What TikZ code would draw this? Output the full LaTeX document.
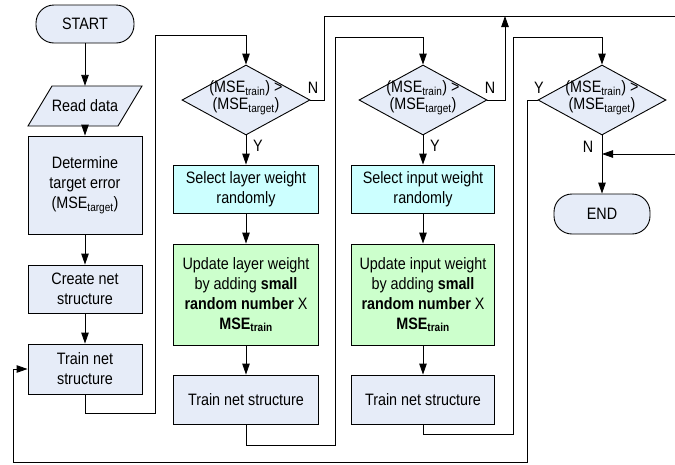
\documentclass[tikz,border=0pt]{standalone}
\usepackage{fontspec}
\setmainfont{Liberation Sans}[FakeStretch=0.87]
\usetikzlibrary{arrows.meta,shapes.geometric}
\definecolor{boxblue}{HTML}{E6ECF8}
\definecolor{boxcyan}{HTML}{CCFFFF}
\definecolor{boxgreen}{HTML}{CCFFCC}
\begin{document}
\begin{tikzpicture}[x=1pt,y=-1pt,
  every node/.style={font=\fontsize{16.5pt}{20pt}\selectfont},
  base/.style={draw=black,line width=0.9pt,align=center,inner sep=0pt},
  proc/.style={base,rectangle,fill=boxblue,minimum width=114pt},
  term/.style={base,rectangle,rounded corners=18pt,fill=boxblue},
  iotext/.style={align=center,inner sep=0pt,minimum width=66pt,minimum height=40pt},
  selbox/.style={base,rectangle,fill=boxcyan,minimum width=145pt,minimum height=48pt},
  updbox/.style={base,rectangle,fill=boxgreen,minimum width=145pt,minimum height=101pt},
  trbox/.style={base,rectangle,fill=boxblue,minimum width=145pt,minimum height=49pt},
  dec/.style={base,diamond,fill=boxblue,minimum width=128pt,minimum height=70pt},
  dtext/.style={align=center,inner sep=0pt,font=\fontsize{16.5pt}{17pt}\selectfont},
  lbl/.style={inner sep=0pt},
  conn/.style={line width=0.9pt,draw=black},
  arr/.style={conn,-{Triangle[length=11pt,width=7.5pt]}}
]
\useasboundingbox (0,0) rectangle (675,464);
% column 1
\node[term,minimum width=98pt,minimum height=38pt] (start) at (85,24) {START};
\draw[fill=boxblue,line width=0.9pt,line join=miter] (52,86) -- (142,86) -- (118,126) -- (28,126) -- cycle;
\node[iotext] (read) at (85,106) {Read data};
\node[proc,minimum height=98pt] (det) at (85,185) {Determine\\target error\\(MSE\textsubscript{target})};
\node[proc,minimum height=48pt] (create) at (85,289) {Create net\\structure};
\node[proc,minimum height=50pt] (tr0) at (85,369) {Train net\\structure};
% column 2
\node[dec] (d1) at (246,100) {};
\node[dtext,yshift=2pt] (d1t) at (d1.center) {(MSE\textsubscript{train}) >\\(MSE\textsubscript{target})};
\node[selbox] (sel1) at (246,189) {Select layer weight\\randomly};
\node[updbox] (upd1) at (246,294.5) {Update layer weight\\by adding \textbf{small}\\\textbf{random number} X\\\textbf{MSE\textsubscript{train}}};
\node[trbox] (tr1) at (246,399.5) {Train net structure};
% column 3
\node[dec] (d2) at (423,100) {};
\node[dtext,yshift=2pt] (d2t) at (d2.center) {(MSE\textsubscript{train}) >\\(MSE\textsubscript{target})};
\node[selbox,minimum width=143pt] (sel2) at (423,189) {Select input weight\\randomly};
\node[updbox,minimum width=143pt] (upd2) at (423,294.5) {Update input weight\\by adding \textbf{small}\\\textbf{random number} X\\\textbf{MSE\textsubscript{train}}};
\node[trbox,minimum width=143pt] (tr2) at (423,399.5) {Train net structure};
% column 4
\node[dec] (d3) at (602,100) {};
\node[dtext,yshift=2pt] (d3t) at (d3.center) {(MSE\textsubscript{train}) >\\(MSE\textsubscript{target})};
\node[term,minimum width=96pt,minimum height=40pt] (end) at (602,214) {END};
% labels
\node[lbl] (n1) at (313,88) {N};
\node[lbl] (y1) at (258,146) {Y};
\node[lbl] (n2) at (490,88) {N};
\node[lbl] (y2) at (435,146) {Y};
\node[lbl] (y3) at (539,88) {Y};
\node[lbl] (n3) at (588,147) {N};
% free ends
\coordinate (topR) at (675,16);
\coordinate (midR) at (675,154);
\coordinate (joinT) at (505,16);
\coordinate (joinE) at (602,154);
% connectors column 1
\draw[arr] (start) -- (read);
\draw[arr] (read) -- (det);
\draw[arr] (det) -- (create);
\draw[arr] (create) -- (tr0);
\draw[arr] (tr0.south) -- (85,413) -- (155,413) -- (155,35) -- (246,35) -- (d1.north);
% column 2
\draw[arr] (d1) -- (sel1);
\draw[arr] (sel1) -- (upd1);
\draw[arr] (upd1) -- (tr1);
\draw[arr] (tr1.south) -- (246,445) -- (335,445) -- (335,37) -- (423,37) -- (d2.north);
\draw[conn] (d1.east) -- (324,100) -- (324,16) -- (topR);
% column 3
\draw[arr] (d2) -- (sel2);
\draw[arr] (sel2) -- (upd2);
\draw[arr] (upd2) -- (tr2);
\draw[arr] (tr2.south) -- (423,434) -- (513,434) -- (513,37) -- (602,37) -- (d3.north);
\draw[arr] (d2.east) -- (505,100) -- (joinT);
% column 4
\draw[arr] (d3) -- (end);
\draw[arr] (midR) -- (joinE);
\draw[arr] (d3.west) -- (527,100) -- (527,462) -- (13,462) -- (13,369) -- (tr0.west);
\end{tikzpicture}
\end{document}
